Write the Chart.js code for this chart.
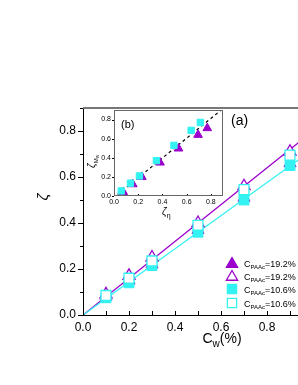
<!DOCTYPE html>
<html>
<head>
<meta charset="utf-8">
<script src="https://cdn.jsdelivr.net/npm/chart.js@4/dist/chart.umd.min.js"></script>
<style>
  html, body { margin: 0; padding: 0; background: #fff; overflow: hidden; width: 298px; height: 385px; }
  #wrap { position: relative; width: 298px; height: 385px; overflow: hidden; }
  #main { position: absolute; left: 0; top: 0; }
  #inset { position: absolute; left: 80px; top: 100px; }
</style>
</head>
<body>
<div id="wrap">
  <canvas id="main" width="380" height="385"></canvas>
  <canvas id="inset" width="150" height="125"></canvas>
</div>
<script>
// main panel (a): zeta vs Cw
var cw = [0.1, 0.2, 0.3, 0.5, 0.7, 0.9];
var triFilled = [0.08, 0.15, 0.22, 0.37, 0.51, 0.66];
var triOpen = [0.09, 0.17, 0.25, 0.40, 0.56, 0.71];
var sqFilled = [0.075, 0.14, 0.215, 0.36, 0.50, 0.65];
var sqOpen = [0.085, 0.16, 0.235, 0.39, 0.545, 0.695];
var fitX = [0, 1.2];
var fitHigh = [0, 0.96];
var fitLow = [0, 0.864];
var legendLabels = ["=19.2%", "=19.2%", "=10.6%", "=10.6%"];

// inset (b): zeta_Mw vs zeta_eta
var sqEta = [0.06, 0.136, 0.21, 0.35, 0.495, 0.637, 0.713];
var sqMw = [0.053, 0.134, 0.21, 0.37, 0.53, 0.687, 0.77];
var triEta = [0.076, 0.155, 0.23, 0.38, 0.533, 0.694, 0.77];
var triMw = [0.042, 0.123, 0.2, 0.35, 0.497, 0.64, 0.71];
var diagX = [0.03, 0.89];
var diagY = [0.015, 0.905];

var purple = "#9b00cc";
var cyan = "#33f2f2";
var fontFam = "'Liberation Sans', Arial, sans-serif";

function pts(xs, ys) {
    var out = [];
    for (var i = 0; i < xs.length; i++) out.push({x: xs[i], y: ys[i]});
    return out;
}

function subText(ctx, x, y, parts) {
    // parts: [text, size, dy, style]
    for (var i = 0; i < parts.length; i++) {
        ctx.font = parts[i][3] + parts[i][1] + "px " + fontFam;
        ctx.fillText(parts[i][0], x, y + parts[i][2]);
        x += ctx.measureText(parts[i][0]).width;
    }
}

function textWidth(ctx, parts) {
    var w = 0;
    for (var i = 0; i < parts.length; i++) {
        ctx.font = parts[i][3] + parts[i][1] + "px " + fontFam;
        w += ctx.measureText(parts[i][0]).width;
    }
    return w;
}

function drawMarker(ctx, kind, x, y, r, color, filled) {
    ctx.save();
    ctx.beginPath();
    if (kind === "tri") {
        ctx.moveTo(x, y - r);
        ctx.lineTo(x + r * 0.866, y + r * 0.5);
        ctx.lineTo(x - r * 0.866, y + r * 0.5);
        ctx.closePath();
    } else {
        var s = r * Math.SQRT1_2;
        ctx.rect(x - s, y - s, 2 * s, 2 * s);
    }
    ctx.fillStyle = filled ? color : "#fff";
    ctx.fill();
    ctx.lineWidth = 1.3;
    ctx.strokeStyle = color;
    ctx.stroke();
    ctx.restore();
}

var mainDecor = {
    id: "mainDecor",
    afterDraw: function(chart) {
        var ctx = chart.ctx, a = chart.chartArea;
        var xs = chart.scales.x, ys = chart.scales.y;
        ctx.save();
        ctx.strokeStyle = "#000";
        ctx.lineWidth = 1;
        // y ticks outward
        for (var i = 0; i <= 9; i++) {
            var py = Math.round(ys.getPixelForValue(i / 10)) + 0.5;
            var len = (i % 2 === 0) ? 5 : 3;
            ctx.beginPath();
            ctx.moveTo(a.left - len, py);
            ctx.lineTo(a.left, py);
            ctx.stroke();
        }
        // x ticks inward
        for (var j = 0; j <= 12; j++) {
            var px = Math.round(xs.getPixelForValue(j / 10)) + 0.5;
            ctx.beginPath();
            ctx.moveTo(px, a.bottom);
            ctx.lineTo(px, a.bottom - 4);
            ctx.stroke();
        }
        // top frame
        ctx.strokeStyle = "#777";
        ctx.lineWidth = 2;
        ctx.beginPath();
        ctx.moveTo(a.left, a.top);
        ctx.lineTo(a.right, a.top);
        ctx.stroke();

        ctx.fillStyle = "#000";
        ctx.textBaseline = "alphabetic";
        // y title
        ctx.save();
        ctx.translate(48, 197);
        ctx.rotate(-Math.PI / 2);
        ctx.font = "italic 15px " + fontFam;
        ctx.textAlign = "center";
        ctx.fillText("\u03b6", 0, 0);
        ctx.restore();
        // x title
        ctx.textAlign = "left";
        var xt = [["C", 14, 0, ""], ["w", 10, 4, ""], ["(%)", 14, 0, ""]];
        subText(ctx, 222 - textWidth(ctx, xt) / 2, 343, xt);
        // (a)
        ctx.font = "14px " + fontFam;
        ctx.fillText("(a)", 231, 125);
        // legend
        var kinds = [["tri", purple, true], ["tri", purple, false], ["sq", cyan, true], ["sq", cyan, false]];
        var rows = [263, 276, 289, 303];
        for (var k = 0; k < 4; k++) {
            drawMarker(ctx, kinds[k][0], 232, rows[k] + (kinds[k][0] === "tri" ? 1 : 0), 6.5, kinds[k][1], kinds[k][2]);
            ctx.fillStyle = "#000";
            subText(ctx, 244, rows[k] + 4, [["C", 9, 0, ""], ["PAAc", 6, 2, ""], [legendLabels[k], 9, 0, ""]]);
        }
        ctx.restore();
    }
};

var insetDecor = {
    id: "insetDecor",
    beforeDraw: function(chart) {
        var ctx = chart.ctx, a = chart.chartArea;
        ctx.save();
        ctx.fillStyle = "#fff";
        ctx.fillRect(a.left, a.top, a.right - a.left, a.bottom - a.top);
        ctx.restore();
    },
    afterDraw: function(chart) {
        var ctx = chart.ctx, a = chart.chartArea;
        var xs = chart.scales.x, ys = chart.scales.y;
        ctx.save();
        ctx.strokeStyle = "#000";
        ctx.lineWidth = 1;
        for (var i = 0; i <= 8; i += 2) {
            var py = Math.round(ys.getPixelForValue(i / 10)) + 0.5;
            ctx.beginPath();
            ctx.moveTo(a.left - 2, py);
            ctx.lineTo(a.left, py);
            ctx.stroke();
            var px = Math.round(xs.getPixelForValue(i / 10)) + 0.5;
            ctx.beginPath();
            ctx.moveTo(px, a.bottom);
            ctx.lineTo(px, a.bottom - 2);
            ctx.stroke();
        }
        ctx.strokeStyle = "#666";
        ctx.strokeRect(a.left + 0.5, a.top + 0.5, a.right - a.left - 1, a.bottom - a.top - 1);
        ctx.fillStyle = "#000";
        ctx.font = "11px " + fontFam;
        ctx.fillText("(b)", 121 - 80, 128 - 100);
        // x title
        subText(ctx, 162 - 80, 215 - 100, [["\u03b6", 10, 0, "italic "], ["\u03b7", 7, 3, ""]]);
        // y title
        ctx.save();
        ctx.translate(95 - 80, 168 - 100);
        ctx.rotate(-Math.PI / 2);
        subText(ctx, 0, 0, [["\u03b6", 10, 0, "italic "], ["M", 6, 3, ""], ["w", 5, 4, ""]]);
        ctx.restore();
        ctx.restore();
    }
};

new Chart(document.getElementById("main"), {
    type: "scatter",
    data: {
        datasets: [
            {label: "open sq", data: pts(cw, sqOpen), pointStyle: "rect", pointRadius: 7,
             backgroundColor: "#fff", borderColor: cyan, borderWidth: 1.3},
            {label: "filled sq", data: pts(cw, sqFilled), pointStyle: "rect", pointRadius: 7,
             backgroundColor: cyan, borderColor: cyan, borderWidth: 1},
            {label: "open tri", data: pts(cw, triOpen), pointStyle: "triangle", pointRadius: 7,
             backgroundColor: "#fff", borderColor: purple, borderWidth: 1.3},
            {label: "filled tri", data: pts(cw, triFilled), pointStyle: "triangle", pointRadius: 7,
             backgroundColor: purple, borderColor: purple, borderWidth: 1},
            {label: "fit 10.6", data: pts(fitX, fitLow), showLine: true, pointRadius: 0,
             borderColor: cyan, borderWidth: 1.3},
            {label: "fit 19.2", data: pts(fitX, fitHigh), showLine: true, pointRadius: 0,
             borderColor: purple, borderWidth: 1.3}
        ]
    },
    options: {
        responsive: false,
        animation: false,
        devicePixelRatio: 1,
        layout: {padding: {top: 108, right: 21, left: 0, bottom: 0}},
        plugins: {legend: {display: false}, tooltip: {enabled: false}},
        scales: {
            x: {
                type: "linear", min: 0, max: 1.2,
                afterFit: function(s) { s.height = 70; },
                grid: {display: false, drawTicks: false},
                border: {display: true, color: "#000", width: 1},
                ticks: {stepSize: 0.2, includeBounds: false, padding: 5, color: "#000",
                        font: {family: fontFam, size: 12}, maxRotation: 0,
                        callback: function(v) { return v.toFixed(1); }}
            },
            y: {
                type: "linear", min: 0, max: 0.9,
                afterFit: function(s) { s.width = 83; },
                grid: {display: false, drawTicks: false},
                border: {display: true, color: "#000", width: 1},
                ticks: {stepSize: 0.2, includeBounds: false, padding: 7, color: "#000",
                        font: {family: fontFam, size: 12},
                        callback: function(v) { return v.toFixed(1); }}
            }
        }
    },
    plugins: [mainDecor]
});

new Chart(document.getElementById("inset"), {
    type: "scatter",
    data: {
        datasets: [
            {label: "sq", data: pts(sqEta, sqMw), pointStyle: "rect", pointRadius: 4.5,
             backgroundColor: cyan, borderColor: cyan, borderWidth: 1},
            {label: "tri", data: pts(triEta, triMw), pointStyle: "triangle", pointRadius: 5,
             backgroundColor: purple, borderColor: purple, borderWidth: 1},
            {label: "y=x", data: pts(diagX, diagY), showLine: true, pointRadius: 0,
             borderColor: "#000", borderWidth: 1.2, borderDash: [3, 3]}
        ]
    },
    options: {
        responsive: false,
        animation: false,
        devicePixelRatio: 1,
        layout: {padding: {top: 10, right: 7, left: 0, bottom: 0}},
        plugins: {legend: {display: false}, tooltip: {enabled: false}},
        scales: {
            x: {
                type: "linear", min: 0, max: 0.9,
                afterFit: function(s) { s.height = 29; },
                grid: {display: false, drawTicks: false},
                border: {display: false},
                ticks: {stepSize: 0.2, includeBounds: false, padding: 2, color: "#000",
                        font: {family: fontFam, size: 7}, maxRotation: 0,
                        callback: function(v) { return v.toFixed(1); }}
            },
            y: {
                type: "linear", min: 0, max: 0.9,
                afterFit: function(s) { s.width = 34; },
                grid: {display: false, drawTicks: false},
                border: {display: false},
                ticks: {stepSize: 0.2, includeBounds: false, padding: 3, color: "#000",
                        font: {family: fontFam, size: 7},
                        callback: function(v) { return v.toFixed(1); }}
            }
        }
    },
    plugins: [insetDecor]
});
</script>
</body>
</html>
